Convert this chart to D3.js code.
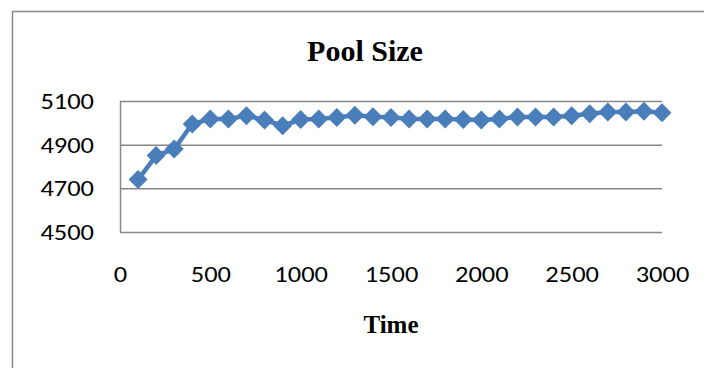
<!DOCTYPE html>
<html>
<head>
<meta charset="utf-8">
<script src="https://cdn.jsdelivr.net/npm/d3@7"></script>
<style>
  html, body { margin: 0; padding: 0; background: #fff; }
  svg { display: block; }
</style>
</head>
<body>
<svg id="chart" width="704" height="368"></svg>
<script>
const times = [100,200,300,400,500,600,700,800,900,1000,1100,1200,1300,1400,1500,1600,1700,1800,1900,2000,2100,2200,2300,2400,2500,2600,2700,2800,2900,3000];
const poolSize = [4740,4850,4880,4995,5017,5017,5033,5013,4987,5015,5018,5025,5035,5028,5025,5018,5018,5018,5015,5013,5018,5027,5027,5027,5032,5042,5050,5050,5053,5046];
const xTicks = [0,500,1000,1500,2000,2500,3000];
const yTicks = [4500,4700,4900,5100];
const title = "Pool Size";
const xTitle = "Time";

const svg = d3.select("#chart");
const margin = {left: 120, right: 662, top: 101, bottom: 232};

const x = d3.scaleLinear().domain([0, 3000]).range([margin.left, margin.right]);
const y = d3.scaleLinear().domain([4500, 5100]).range([margin.bottom, margin.top]);

// outer border
svg.append("rect")
  .attr("x", 12.5).attr("y", 11.5)
  .attr("width", 760).attr("height", 400)
  .attr("fill", "none").attr("stroke", "#888").attr("stroke-width", 1.5);

const labelFont = "Carlito, Calibri, 'Open Sans', sans-serif";
const stretch = function() {
  const w = this.getComputedTextLength();
  d3.select(this).attr("textLength", w * 1.15).attr("lengthAdjust", "spacingAndGlyphs");
};

// gridlines via y axis
const yAxis = d3.axisLeft(y).tickValues(yTicks).tickSize(-(margin.right - margin.left)).tickPadding(26).tickFormat(d3.format("d"));
const gy = svg.append("g").attr("transform", `translate(${margin.left},0)`).call(yAxis);
gy.select(".domain").attr("stroke", "#878787").attr("stroke-width", 1.5).attr("d", `M0.5,${margin.top}V${margin.bottom}`);
gy.selectAll(".tick line").attr("stroke", "#878787").attr("stroke-width", 1.5);
gy.selectAll(".tick text").attr("font-family", labelFont).attr("font-size", 23).attr("fill", "#000").each(stretch);

// x axis labels only
const xAxis = d3.axisBottom(x).tickValues(xTicks).tickSize(0).tickPadding(0).tickFormat(d3.format("d"));
const gx = svg.append("g").attr("transform", `translate(0,275)`).call(xAxis);
gx.select(".domain").remove();
gx.selectAll(".tick text").attr("font-family", labelFont).attr("font-size", 23).attr("fill", "#000").attr("dy", "0.32em").each(stretch);

// line
const data = times.map((t, i) => ({t, v: poolSize[i]}));
svg.append("path")
  .datum(data)
  .attr("fill", "none")
  .attr("stroke", "#4a7ebb")
  .attr("stroke-width", 4.5)
  .attr("d", d3.line().x(d => x(d.t)).y(d => y(d.v)));

// diamond markers
const r = 9.5;
svg.selectAll(".pt").data(data).join("path")
  .attr("class", "pt")
  .attr("transform", d => `translate(${x(d.t)},${y(d.v)})`)
  .attr("d", `M0,${-r}L${r},0L0,${r}L${-r},0Z`)
  .attr("fill", "#4a7ebb");

// title
svg.append("text")
  .attr("x", 365).attr("y", 61)
  .attr("text-anchor", "middle")
  .attr("font-family", "'Liberation Serif', 'Times New Roman', serif")
  .attr("font-weight", "bold").attr("font-size", 30)
  .text(title);

svg.append("text")
  .attr("x", 391).attr("y", 333)
  .attr("text-anchor", "middle")
  .attr("font-family", "'Liberation Serif', 'Times New Roman', serif")
  .attr("font-weight", "bold").attr("font-size", 25)
  .text(xTitle);
</script>
</body>
</html>
